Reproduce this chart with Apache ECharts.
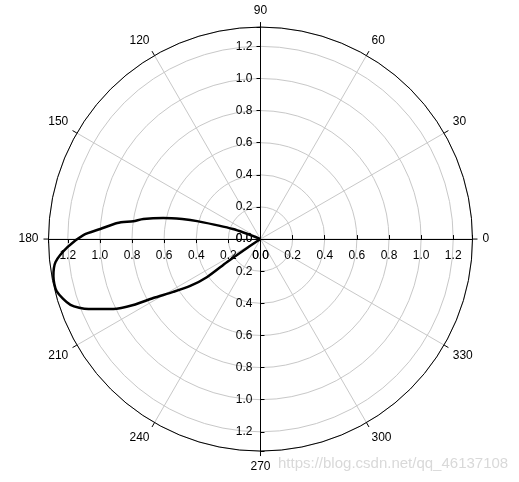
<!DOCTYPE html>
<html><head><meta charset="utf-8">
<script src="https://cdn.jsdelivr.net/npm/echarts@6/dist/echarts.min.js"></script>
<style>html,body{margin:0;padding:0;background:#fff}#c{width:519px;height:482px}</style>
</head><body><div id="c"></div>
<script>
var angles = [155, 160, 164.2, 165.7, 167.8, 170.3, 172, 173.6, 176.4, 178.7, 182.4, 186.4, 190.2, 194.3, 199.1, 202.1, 205.4, 207.4, 208.8, 211.2, 213.7, 215.4, 214.5, 213.7, 214];
var radii  = [0, 0.182, 0.41, 0.503, 0.62, 0.74, 0.80, 0.897, 0.999, 1.103, 1.203, 1.284, 1.31, 1.31, 1.252, 1.156, 1.014, 0.892, 0.762, 0.635, 0.526, 0.407, 0.252, 0.1, 0];
var angleTicks = [0, 30, 60, 90, 120, 150, 180, 210, 240, 270, 300, 330];
var radiusTicks = [0, 0.2, 0.4, 0.6, 0.8, 1.0, 1.2];

var chart = echarts.init(document.getElementById('c'));
var font = 'Liberation Sans, Arial, sans-serif';
var center = ['50.19%', '49.6%'];
var R = 212;
var rMax = 1.32;
function fmtR(v){ return v > 1.21 ? '' : v.toFixed(1); }

// polar 0: grid (rings + spokes) and the data; polars 1-4: black radial axes at 0/90/180/270
var polars = [{center: center, radius: R}];
var angleAxes = [{
  polarIndex: 0, type: 'value', min: 0, max: 360, interval: 30,
  startAngle: 0, clockwise: false, z: 1,
  axisLine: {show: false},
  axisTick: {show: false},
  axisLabel: {show: false},
  splitLine: {show: true, lineStyle: {color: '#c8c8c8', width: 1}}
}];
var radiusAxes = [{
  polarIndex: 0, type: 'value', min: 0, max: rMax, interval: 0.2, z: 1,
  axisLine: {show: false}, axisTick: {show: false}, axisLabel: {show: false},
  splitLine: {show: true, lineStyle: {color: '#c8c8c8', width: 1}}
}];
var starts = [0, 90, 180, 270];
var tickInside = [true, false, false, true];
var labelCfg = [
  {margin: -17, verticalAlign: 'middle', align: 'center'},
  {margin: 8},
  {margin: 17, verticalAlign: 'middle', align: 'center'},
  {margin: -8, align: 'right', verticalAlign: 'middle'}
];
starts.forEach(function(s, k){
  var i = k + 1;
  polars.push({center: center, radius: R});
  angleAxes.push({
    polarIndex: i, type: 'value', min: 0, max: 360, interval: 30,
    startAngle: s, clockwise: false, z: 4,
    axisLine: {show: k === 0, lineStyle: {color: '#000', width: 1}},
    axisTick: {show: k === 0, length: 5, lineStyle: {color: '#000'}},
    axisLabel: {show: k === 0, color: '#000', fontFamily: font, fontSize: 12, margin: 10,
      formatter: function(v){ return angleTicks.indexOf(v) >= 0 ? String(v) : ''; }},
    splitLine: {show: false}
  });
  radiusAxes.push({
    polarIndex: i, type: 'value', min: 0, max: rMax, interval: 0.2, z: 5,
    axisLine: {show: true, lineStyle: {color: '#000', width: 1}},
    axisTick: {show: true, length: 4, inside: tickInside[k], lineStyle: {color: '#000'}},
    axisLabel: Object.assign({show: true, color: '#000', fontFamily: font, fontSize: 12, formatter: fmtR}, labelCfg[k]),
    splitLine: {show: false}
  });
});

var data = angles.map(function(a, i){ return [radii[i], a]; });

chart.setOption({
  animation: false,
  backgroundColor: '#fff',
  polar: polars,
  angleAxis: angleAxes,
  radiusAxis: radiusAxes,
  series: [{
    type: 'line', coordinateSystem: 'polar', polarIndex: 0,
    data: data, smooth: 0.25, showSymbol: false, symbol: 'none',
    lineStyle: {color: '#000', width: 2.5}, z: 10
  }],
  graphic: [{
    type: 'text', left: 278, top: 456,
    style: {text: 'https://blog.csdn.net/qq_46137108', fill: '#d9d9d9', font: '15px ' + font}
  }]
});
</script></body></html>
